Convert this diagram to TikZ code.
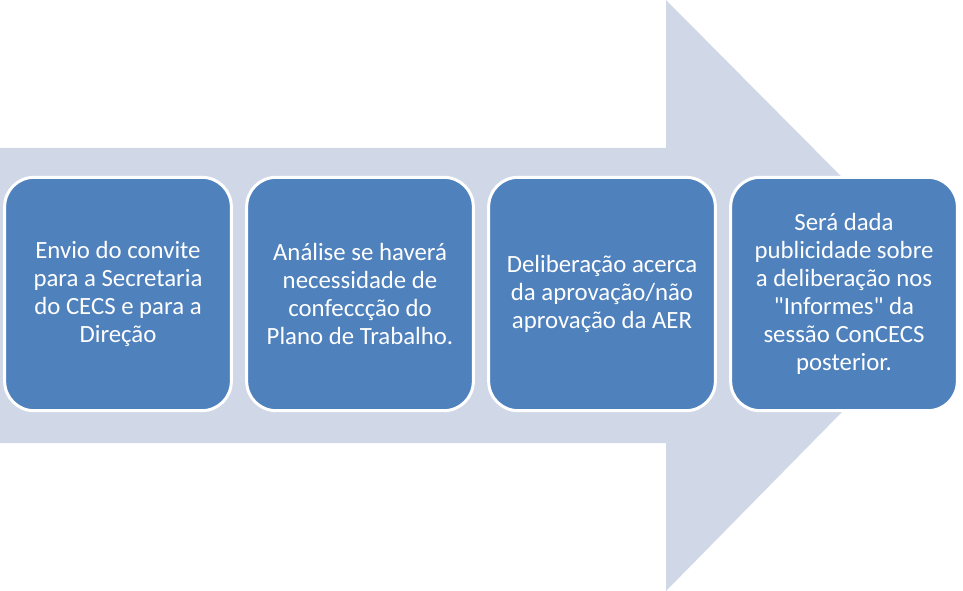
\documentclass[tikz,border=0pt]{standalone}
\usepackage{fontspec}
\setmainfont{Carlito}
\definecolor{flowband}{RGB}{208, 216, 232}
\definecolor{flowstep}{RGB}{79, 129, 189}
\usepackage{tikz}

\begin{document}
\begin{tikzpicture}[
      x=0.75pt, y=-0.75pt,
      stepbox/.style={draw=white, line width=2.25pt, fill=flowstep, rounded corners=22pt,
                  minimum width=170pt, minimum height=175pt, text=white, align=center,
                  font=\fontsize{18.6}{21}\selectfont},
    ]
      \useasboundingbox (0,0) rectangle (963,591);

      % Grande seta
      \fill[flowband] (0,148) -- (666,148) -- (666,0) -- (958,294)
        -- (666,591) -- (666,443) -- (0,443) -- cycle;

      % Etapas
      \node[stepbox] (convite) at (118,294) {Envio do convite\\para a Secretaria\\do CECS e para a\\Direção};
      \node[stepbox] (analise) at (360,294) {Análise se haverá\\necessidade de\\confeccção do\\Plano de Trabalho.};
      \node[stepbox] (deliberacao) at (602,294) {Deliberação acerca\\da aprovação/não\\aprovação da AER};
      \node[stepbox] (publicidade) at (844,294) {Será dada\\publicidade sobre\\a deliberação nos\\\textquotedbl Informes\textquotedbl{} da\\sessão ConCECS\\posterior.};
    \end{tikzpicture}
\end{document}
